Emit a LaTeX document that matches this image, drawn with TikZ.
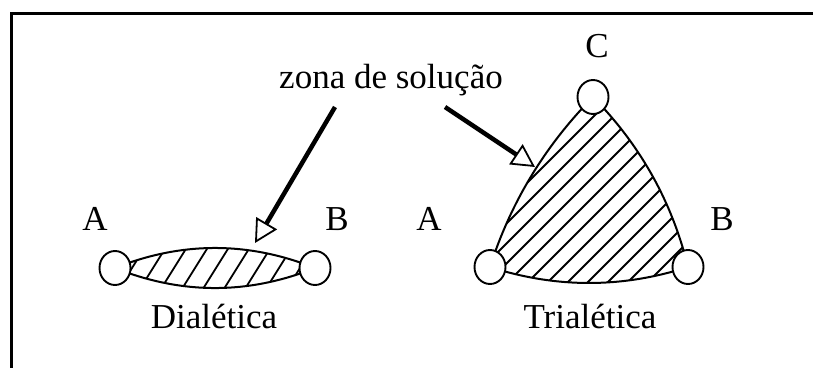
\documentclass[tikz,border=0pt]{standalone}
\usepackage{fontspec}
\setmainfont{Liberation Serif}
\usetikzlibrary{arrows.meta,shapes.geometric}
\begin{document}
\begin{tikzpicture}[x=1pt,y=-1pt,
  lbl/.style={font=\fontsize{35}{40}\selectfont, inner sep=0pt, anchor=base},
  vtx/.style={draw, fill=white, ellipse, minimum width=31pt, minimum height=34pt, inner sep=0pt, line width=1.9pt},
  outline/.style={line width=2pt},
  hatchline/.style={line width=1.8pt},
  pointer/.style={line width=4.5pt, -{Triangle[open, length=23pt, width=24pt, line width=1.8pt]}},
  frameline/.style={line width=3pt}
]
\useasboundingbox (0,0) rectangle (813,368);
% frame
\coordinate (f1) at (813,13);
\coordinate (f2) at (11,13);
\coordinate (f3) at (11,368);
\draw[frameline] (f1) -- (f2) -- (f3);

% centres
\coordinate (pdA) at (115,268);
\coordinate (pdB) at (315,268);
\coordinate (ptA) at (490,267);
\coordinate (ptB) at (688,267);
\coordinate (ptC) at (593,97);

% Dialetica lens
\begin{scope}
  \clip (pdA) .. controls (181.7,241.3) and (248.3,241.3) .. (pdB)
        .. controls (248.3,294.7) and (181.7,294.7) .. (pdA) -- cycle;
  \foreach \x in {90,111,...,340} \draw[hatchline] (\x-30,316) -- (\x+30,220);
\end{scope}
\draw[outline] (pdA) .. controls (181.7,241.3) and (248.3,241.3) .. (pdB)
        .. controls (248.3,294.7) and (181.7,294.7) .. (pdA) -- cycle;

% Trialetica region
\begin{scope}
  \clip (ptA) .. controls (510.7,202.3) and (545,145.7) .. (ptC)
        .. controls (640.3,145) and (672,201.7) .. (ptB)
        .. controls (622,288.3) and (556,288.3) .. (ptA) -- cycle;
  \foreach \c in {650,670,...,1000} \draw[hatchline] (\c-400,400) -- (\c,0);
\end{scope}
\draw[outline] (ptA) .. controls (510.7,202.3) and (545,145.7) .. (ptC)
        .. controls (640.3,145) and (672,201.7) .. (ptB)
        .. controls (622,288.3) and (556,288.3) .. (ptA) -- cycle;

% vertices
\node[vtx] (dA) at (pdA) {};
\node[vtx] (dB) at (pdB) {};
\node[vtx] (tA) at (ptA) {};
\node[vtx] (tB) at (ptB) {};
\node[vtx] (tC) at (ptC) {};

% labels
\node[lbl] (ldA) at (95,230) {A};
\node[lbl] (ldB) at (337,230) {B};
\node[lbl] (ltA) at (429,230) {A};
\node[lbl] (ltB) at (722,230) {B};
\node[lbl] (ltC) at (597,57) {C};
\node[lbl] (zona) at (391,88) {zona de solução};
\node[lbl] (dial) at (214,328) {Dialética};
\node[lbl] (trial) at (590,328) {Trialética};

% arrows
\coordinate (sL) at (335,107);
\coordinate (eL) at (255,243);
\coordinate (sR) at (445,107);
\coordinate (eR) at (535,167);
\draw[pointer] (sL) -- (eL);
\draw[pointer] (sR) -- (eR);
\end{tikzpicture}
\end{document}
